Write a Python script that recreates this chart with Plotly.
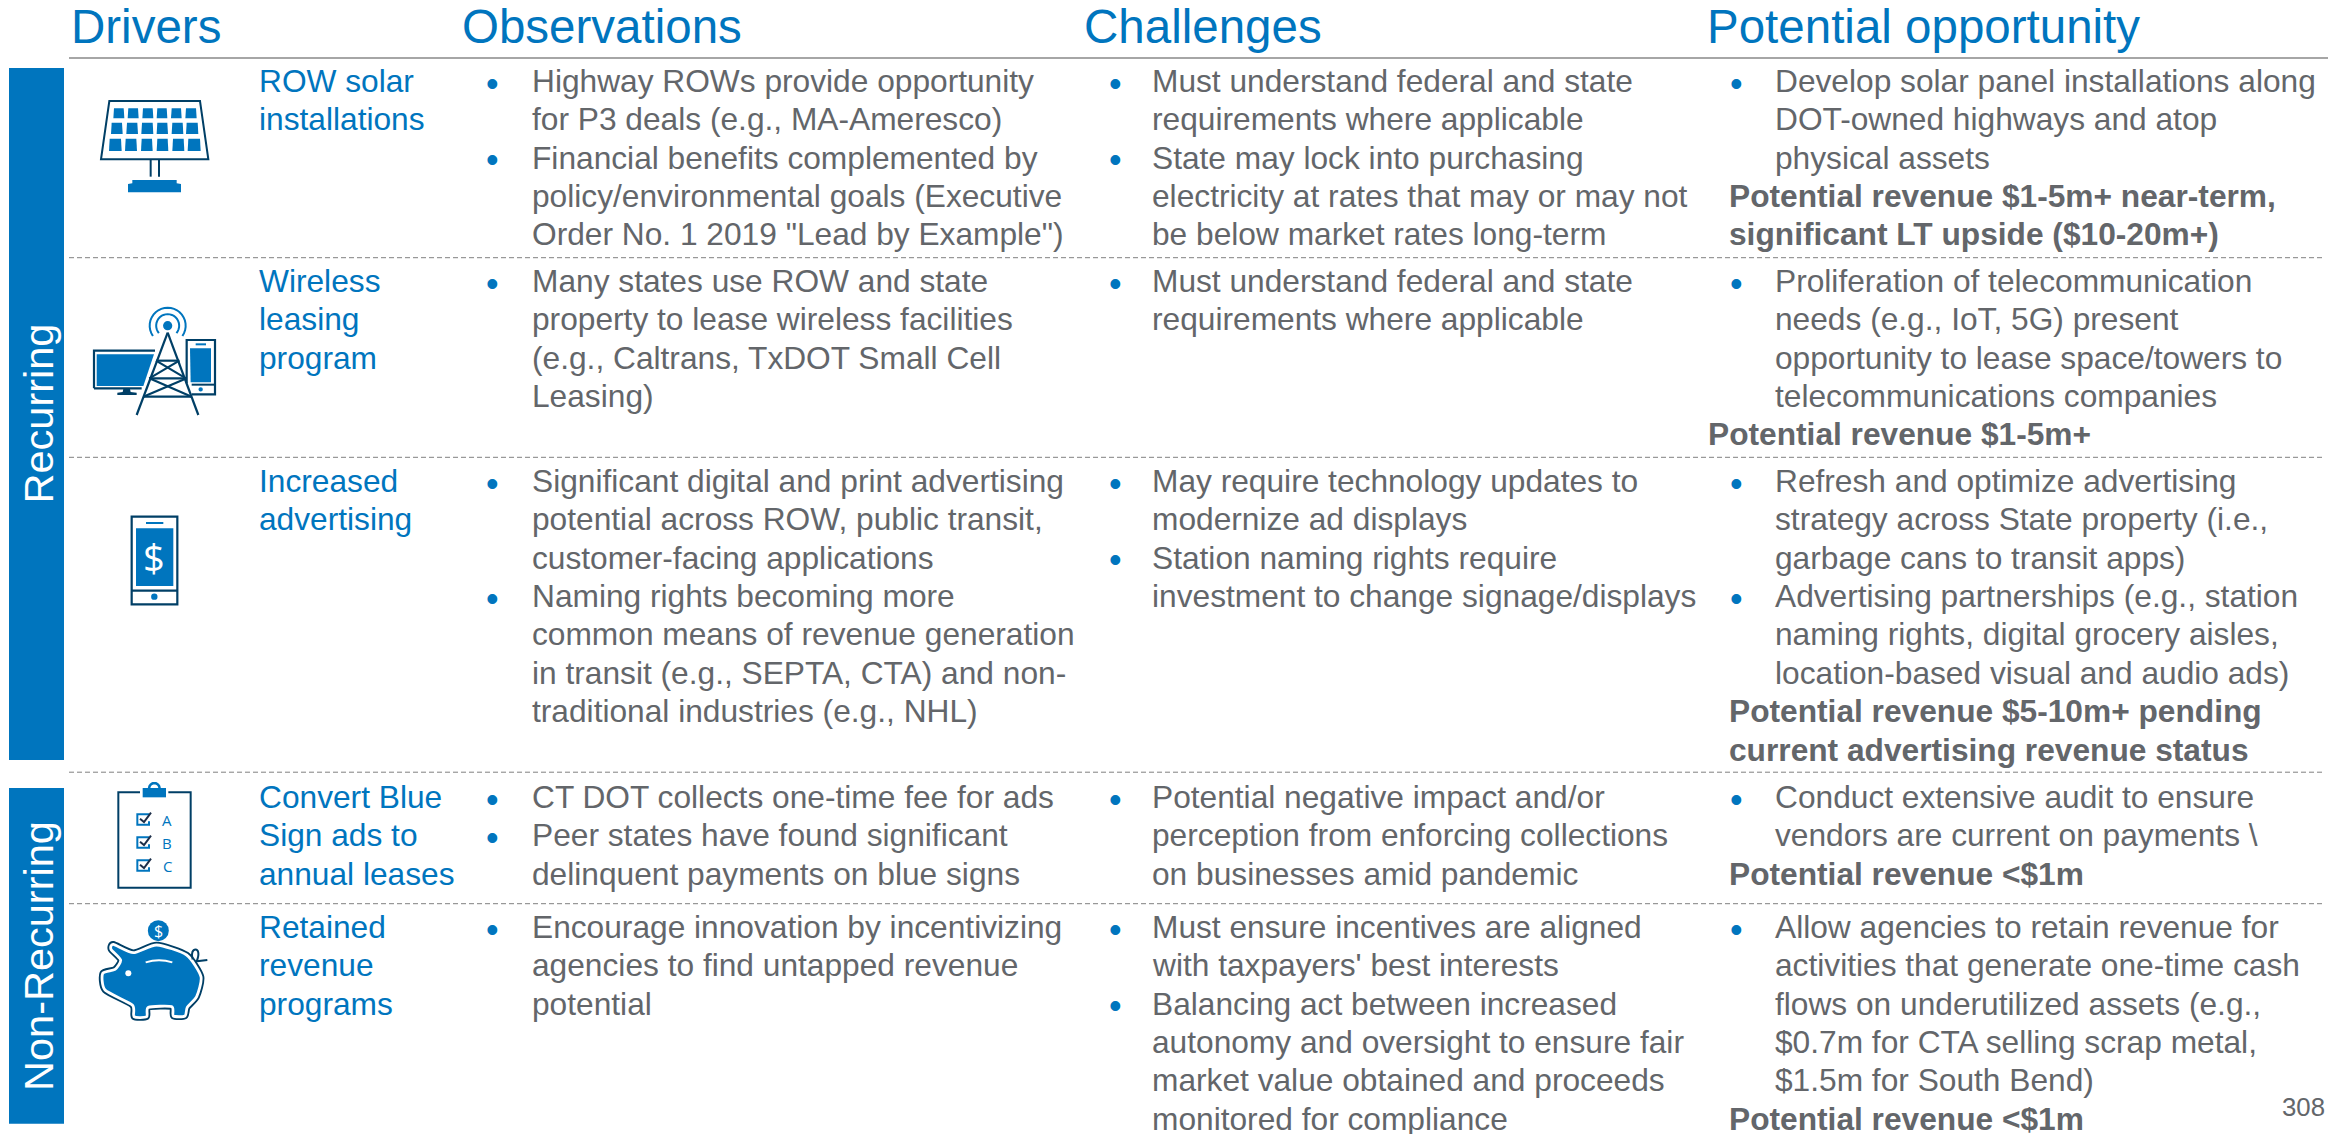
import math
import plotly.graph_objects as go

W, H = 2349, 1134
BLUE, NAVY, GRAY = "#0075BE", "#003F66", "#63666A"
FONT = "Liberation Sans"

headers = ["Drivers", "Observations", "Challenges", "Potential opportunity"]
header_x = [71, 462, 1084, 1707]
side_labels = ["Recurring", "Non-Recurring"]
drivers = [
    ["ROW solar", "installations"],
    ["Wireless", "leasing", "program"],
    ["Increased", "advertising"],
    ["Convert Blue", "Sign ads to", "annual leases"],
    ["Retained", "revenue", "programs"],
]
# line kinds: b = first line of a bullet, c = continuation, B = bold revenue line
observations = [
    [("b", "Highway ROWs provide opportunity"), ("c", "for P3 deals (e.g., MA-Ameresco)"),
     ("b", "Financial benefits complemented by"), ("c", "policy/environmental goals (Executive"),
     ("c", 'Order No. 1 2019 "Lead by Example")')],
    [("b", "Many states use ROW and state"), ("c", "property to lease wireless facilities"),
     ("c", "(e.g., Caltrans, TxDOT Small Cell"), ("c", "Leasing)")],
    [("b", "Significant digital and print advertising"), ("c", "potential across ROW, public transit,"),
     ("c", "customer-facing applications"), ("b", "Naming rights becoming more"),
     ("c", "common means of revenue generation"), ("c", "in transit (e.g., SEPTA, CTA) and non-"),
     ("c", "traditional industries (e.g., NHL)")],
    [("b", "CT DOT collects one-time fee for ads"), ("b", "Peer states have found significant"),
     ("c", "delinquent payments on blue signs")],
    [("b", "Encourage innovation by incentivizing"), ("c", "agencies to find untapped revenue"),
     ("c", "potential")],
]
challenges = [
    [("b", "Must understand federal and state"), ("c", "requirements where applicable"),
     ("b", "State may lock into purchasing"), ("c", "electricity at rates that may or may not"),
     ("c", "be below market rates long-term")],
    [("b", "Must understand federal and state"), ("c", "requirements where applicable")],
    [("b", "May require technology updates to"), ("c", "modernize ad displays"),
     ("b", "Station naming rights require"), ("c", "investment to change signage/displays")],
    [("b", "Potential negative impact and/or"), ("c", "perception from enforcing collections"),
     ("c", "on businesses amid pandemic")],
    [("b", "Must ensure incentives are aligned"), ("c", "with taxpayers' best interests"),
     ("b", "Balancing act between increased"), ("c", "autonomy and oversight to ensure fair"),
     ("c", "market value obtained and proceeds"), ("c", "monitored for compliance")],
]
opportunity = [
    [("b", "Develop solar panel installations along"), ("c", "DOT-owned highways and atop"),
     ("c", "physical assets"), ("B", "Potential revenue $1-5m+ near-term,"),
     ("B", "significant LT upside ($10-20m+)")],
    [("b", "Proliferation of telecommunication"), ("c", "needs (e.g., IoT, 5G) present"),
     ("c", "opportunity to lease space/towers to"), ("c", "telecommunications companies"),
     ("B", "Potential revenue $1-5m+")],
    [("b", "Refresh and optimize advertising"), ("c", "strategy across State property (i.e.,"),
     ("c", "garbage cans to transit apps)"), ("b", "Advertising partnerships (e.g., station"),
     ("c", "naming rights, digital grocery aisles,"), ("c", "location-based visual and audio ads)"),
     ("B", "Potential revenue $5-10m+ pending"), ("B", "current advertising revenue status")],
    [("b", "Conduct extensive audit to ensure"), ("c", "vendors are current on payments \\"),
     ("B", "Potential revenue <$1m")],
    [("b", "Allow agencies to retain revenue for"), ("c", "activities that generate one-time cash"),
     ("c", "flows on underutilized assets (e.g.,"), ("c", "$0.7m for CTA selling scrap metal,"),
     ("c", "$1.5m for South Bend)"), ("B", "Potential revenue <$1m")],
]
page_number = "308"

row_first_baseline = [92, 292, 492, 808, 938]
row_rules = [257.7, 457.3, 772.2, 903.7]
LINE = 38.4
BODY = 31.7
D = 0.212


def esc(s):
    return s.replace("&", "&amp;").replace("<", "&lt;")


anns, shapes = [], []


def text(x, base, s, size=BODY, color=GRAY, bold=False, anchor="left", family=FONT):
    anns.append(dict(x=x, y=base, yshift=-D * size, text=esc(s), xref="x", yref="y", showarrow=False,
                     xanchor=anchor, yanchor="bottom", borderpad=0, borderwidth=0, align="left",
                     font=dict(family=family, size=size, color=color, weight=700 if bold else 400)))


def line(x0, y0, x1, y1, color, width, dash=None):
    shapes.append(dict(type="line", x0=x0, y0=y0, x1=x1, y1=y1, xref="x", yref="y",
                       line=dict(color=color, width=width, dash=dash or "solid")))


def rect(x0, y0, x1, y1, fill, lc=None, lw=0):
    shapes.append(dict(type="rect", x0=x0, y0=y0, x1=x1, y1=y1, xref="x", yref="y", fillcolor=fill,
                       line=dict(color=lc or fill, width=lw)))


def path(d, fill=None, lc=None, lw=0):
    s = dict(type="path", path=d, xref="x", yref="y", line=dict(color=lc or "rgba(0,0,0,0)", width=lw))
    if fill:
        s["fillcolor"] = fill
    shapes.append(s)


def circle(cx, cy, r, fill):
    shapes.append(dict(type="circle", x0=cx - r, y0=cy - r, x1=cx + r, y1=cy + r, xref="x", yref="y",
                       fillcolor=fill, line=dict(width=0)))


def poly(pts, close=True):
    return "M" + " L".join(f"{x:.2f},{y:.2f}" for x, y in pts) + (" Z" if close else "")


def arc(cx, cy, r, a0, a1, n=24):
    return [(cx + r * math.cos(math.radians(a0 + (a1 - a0) * i / n)),
             cy + r * math.sin(math.radians(a0 + (a1 - a0) * i / n))) for i in range(n + 1)]


# ---- frame
rect(9, 68, 64, 760, BLUE)
rect(9, 788, 64, 1123.7, BLUE)
line(69, 58, 2328, 58, "#A6A6A6", 2)
for y in row_rules:
    line(69, y, 2325, y, "#808080", 1, "5px,3px")

for t, x in zip(headers, header_x):
    text(x, 43, t, size=47.5, color=BLUE)

for t, cy in zip(side_labels, [413.5, 956]):
    anns.append(dict(x=38, y=cy, text=t, textangle=-90, xref="x", yref="y", showarrow=False,
                     xanchor="center", yanchor="middle", borderpad=0, borderwidth=0,
                     font=dict(family=FONT, size=41.5, color="white")))

for lines, base in zip(drivers, row_first_baseline):
    for k, t in enumerate(lines):
        text(259, base + k * LINE, t, color=BLUE)

columns = [(observations, 492.6, 531.6, 492), (challenges, 1115, 1152, 1115), (opportunity, 1736.5, 1775, 1729)]
for rows, bx, tx, bold_x in columns:
    for r, (items, base) in enumerate(zip(rows, row_first_baseline)):
        for k, (kind, t) in enumerate(items):
            y = base + k * LINE
            if kind == "B":
                x = 1708 if r == 1 else bold_x
                text(x, y, t, bold=True)
            else:
                if kind == "b":
                    anns.append(dict(x=bx, y=y - 9, text="•", xref="x", yref="y", showarrow=False,
                                     xanchor="center", yanchor="middle", borderpad=0, borderwidth=0,
                                     font=dict(family=FONT, size=36, color=BLUE)))
                text(tx, y, t)

text(2325, 1116, page_number, size=25.8, anchor="right")


# ---- icons (decoration, drawn from zoomed-crop coordinates)
def Z(x0, y0, p):
    return [(x0 + x / 3, y0 + y / 3) for x, y in p]


# solar panel
z = lambda p: Z(0, 0, p)
path(poly(z([(328, 303), (600, 303), (625, 478), (303, 478)])), None, NAVY, 2)
cell_rows = [
    (325, 355, [(340, 373), (383, 416), (427, 460), (470, 502), (513, 545), (556, 590)]),
    (368, 402, [(333, 368), (379, 414), (424, 460), (470, 504), (515, 550), (558, 595)]),
    (416, 453, [(327, 365), (375, 411), (423, 458), (470, 505), (517, 553), (563, 602)]),
]
for y0, y1, cs in cell_rows:
    for a, b in cs:
        path(poly(z([(a + 2, y0), (b - 2, y0), (b, y1), (a, y1)])), BLUE)
for xx in (452, 477):
    path(poly(z([(xx, 480), (xx, 530)]), False), None, NAVY, 2)
path(poly(z([(397, 540), (530, 540), (530, 550), (543, 552), (543, 577), (384, 577), (384, 552), (397, 550)])), BLUE)

# tower
z = lambda p: Z(80, 290, p)
path(poly(z([(42, 295), (42, 182), (225, 182)]), False), None, NAVY, 2.2)
path(poly(z([(42, 295), (185, 295)]), False), None, NAVY, 2.2)
path(poly(z([(50, 193), (222, 193), (190, 288), (50, 288)])), BLUE)
path(poly(z([(130, 297), (150, 297), (152, 306), (170, 308), (170, 315), (112, 315), (112, 308), (128, 306)])), NAVY)
path(poly(z([(320, 280), (320, 150), (405, 150), (405, 313), (335, 313)]), False), None, NAVY, 2.2)
path(poly(z([(330, 175), (393, 175), (393, 277), (332, 277)])), BLUE)
path(poly(z([(347, 163), (378, 163)]), False), None, BLUE, 2)
path(poly(z([(335, 284), (405, 284)]), False), None, NAVY, 2)
cx, cy = z([(362, 298)])[0]
circle(cx, cy, 2.2, BLUE)
cx, cy = z([(263, 107)])[0]
circle(cx, cy, 4.6, BLUE)
for r, span in ((11.5, 50), (18, 55)):
    path(poly(arc(cx, cy, r, 90 + span, 360 + 90 - span), False), None, BLUE, 2)
for a, b in [((263, 128), (170, 375)), ((263, 128), (355, 375)),
             ((228, 212), (298, 212)), ((208, 265), (320, 265)), ((190, 320), (335, 320)),
             ((228, 212), (318, 265)), ((298, 212), (208, 265)),
             ((208, 265), (335, 320)), ((320, 265), (190, 320))]:
    path(poly(z([a, b]), False), None, NAVY, 2.2)

# phone
z = lambda p: Z(0, 400, p)
(a, b), (c, d) = z([(395, 350), (532, 613)])
rect(a, b, c, d, "white", NAVY, 2.2)
(a, b), (c, d) = z([(408, 385), (520, 558)])
rect(a, b, c, d, BLUE)
path(poly(z([(438, 369), (490, 369)]), False), None, BLUE, 2)
path(poly(z([(395, 572), (532, 572)]), False), None, NAVY, 2.2)
cx, cy = z([(463, 590)])[0]
circle(cx, cy, 3.2, BLUE)
cx, cy = z([(463, 472)])[0]
anns.append(dict(x=cx, y=cy, text="$", xref="x", yref="y", showarrow=False, xanchor="center", yanchor="middle",
                 borderpad=0, borderwidth=0, font=dict(family="Open Sans", size=38, color="white")))

# clipboard
z = lambda p: Z(0, 760, p)
path(poly(z([(420, 97), (355, 97), (355, 383), (572, 383), (572, 97), (505, 97)]), False), None, NAVY, 2)
path(poly(z([(428, 84), (498, 84), (498, 112), (428, 112)])), BLUE)
cx, cy = z([(463, 85)])[0]
path(poly(arc(cx, cy, 5.2, 180, 360), False), None, BLUE, 2.5)
for yc, letter in zip((178, 247, 316), ("A", "B", "C")):
    path(poly(z([(447, yc - 15), (412, yc - 15), (412, yc + 16), (447, yc + 16), (447, yc + 6)]), False), None, BLUE, 2)
    path(poly(z([(420, yc - 2), (432, yc + 8), (453, yc - 20)]), False), None, "#1D2F4A", 2)
    px, py = z([(501, yc + 2)])[0]
    anns.append(dict(x=px, y=py, text=letter, xref="x", yref="y", showarrow=False, xanchor="center", yanchor="middle",
                     borderpad=0, borderwidth=0, font=dict(family="Open Sans", size=15, color=BLUE)))

# piggy bank
z = lambda p: Z(0, 760, p)
def pig():
    k = [(308, 640), (345, 628), (362, 600), (333, 568), (340, 553), (400, 578),
         (470, 555), (560, 585), (603, 650), (590, 710), (562, 742), (555, 768),
         (520, 768), (515, 740), (445, 742), (440, 770), (402, 770), (397, 735),
         (315, 690)]
    p = z(k)
    n = len(p)
    d = f"M{p[0][0]:.2f},{p[0][1]:.2f}"
    for i in range(n):
        p0, p1, p2, p3 = p[i - 1], p[i], p[(i + 1) % n], p[(i + 2) % n]
        t = 0.11
        c1 = (p1[0] + (p2[0] - p0[0]) * t, p1[1] + (p2[1] - p0[1]) * t)
        c2 = (p2[0] - (p3[0] - p1[0]) * t, p2[1] - (p3[1] - p1[1]) * t)
        d += f" C{c1[0]:.2f},{c1[1]:.2f} {c2[0]:.2f},{c2[1]:.2f} {p2[0]:.2f},{p2[1]:.2f}"
    return d + " Z"

path(pig(), NAVY, NAVY, 6.5)
path(pig(), BLUE, "white", 2.8)
cx, cy = z([(385, 640)])[0]
circle(cx, cy, 3, "white")
(a, b), (c, d), (e, f) = z([(437, 607), (477, 594), (517, 607)])
path(f"M{a},{b} Q{c},{d} {e},{f}", None, "white", 2)
(a, b), (c, d), (e, f), (g, h) = z([(578, 598), (565, 560), (610, 555), (622, 600)])
path(f"M{a},{b} C{c},{d} {e},{f} {a + 4},{b + 2} L{g},{h}", None, NAVY, 2)
cx, cy = z([(475, 512)])[0]
circle(cx, cy, 10.5, BLUE)
anns.append(dict(x=cx, y=cy, text="$", xref="x", yref="y", showarrow=False, xanchor="center", yanchor="middle",
                 borderpad=0, borderwidth=0, font=dict(family="Open Sans", size=16, color="white")))

fig = go.Figure(go.Scatter(x=[0, W], y=[0, H], mode="markers", marker=dict(opacity=0), hoverinfo="skip", showlegend=False))
fig.update_layout(width=W, height=H, margin=dict(l=0, r=0, t=0, b=0), plot_bgcolor="white", paper_bgcolor="white",
                  annotations=anns, shapes=shapes, showlegend=False,
                  xaxis=dict(range=[0, W], visible=False, fixedrange=True),
                  yaxis=dict(range=[H, 0], visible=False, fixedrange=True))
fig.write_html("out.html", config=dict(displayModeBar=False),
               post_script="document.body.style.margin='0';document.body.style.overflow='hidden';")
